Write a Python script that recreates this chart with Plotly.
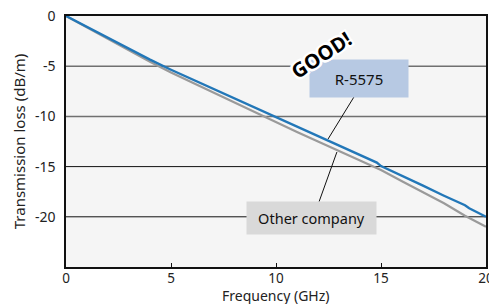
import plotly.graph_objects as go

# ---- data ----
freq_r5575 = [0, 1, 2, 3, 4, 5, 6, 7, 8, 9, 10, 11, 12, 13, 14, 14.6, 14.8, 15, 16, 17, 18, 19, 19.2, 20]
loss_r5575 = [0, -1.1, -2.2, -3.3, -4.35, -5.35, -6.3, -7.25, -8.2, -9.15, -10.1, -11.05, -12.0,
              -12.95, -13.9, -14.4, -14.6, -14.95, -15.9, -16.9, -17.9, -18.85, -19.15, -20.0]

freq_other = [0, 1, 2, 3, 4, 5, 6, 7, 8, 9, 10, 11, 12, 13, 14, 15, 16, 17, 18, 19, 20]
loss_other = [0, -1.15, -2.3, -3.42, -4.55, -5.62, -6.62, -7.6, -8.6, -9.6, -10.58, -11.55, -12.5,
              -13.45, -14.4, -15.35, -16.45, -17.55, -18.65, -19.9, -21.0]

x_ticks = [0, 5, 10, 15, 20]
y_ticks = [0, -5, -10, -15, -20]
grid_y = [-5, -10, -15, -20]

fig = go.Figure()
fig.add_trace(go.Scatter(x=freq_other, y=loss_other, mode="lines",
                         line=dict(color="#9a9a9a", width=2.2), name="Other company",
                         showlegend=False))
fig.add_trace(go.Scatter(x=freq_r5575, y=loss_r5575, mode="lines",
                         line=dict(color="#2277b8", width=2.4), name="R-5575",
                         showlegend=False))

shapes = []
for g in grid_y:
    col = "#707070" if g > -12 else "#111111"
    w = 1.5 if g > -12 else 1
    shapes.append(dict(type="line", xref="paper", yref="y", x0=0, x1=1, y0=g, y1=g,
                       line=dict(color=col, width=w), layer="below"))
# leader lines
shapes.append(dict(type="line", xref="x", yref="y", x0=13.71, y0=-8.07, x1=12.48, y1=-12.25,
                   line=dict(color="#111", width=1)))
shapes.append(dict(type="line", xref="x", yref="y", x0=12.05, y0=-18.5, x1=12.9, y1=-13.55,
                   line=dict(color="#111", width=1)))

font_family = "Noto Sans"
annotations = [
    dict(x=13.95, y=-6.27, xref="x", yref="y", text="R-5575", showarrow=False,
         bgcolor="#b7c9e3", width=96, height=35, font=dict(family=font_family, size=15, color="#111")),
    dict(x=11.71, y=-20.1, xref="x", yref="y", text="Other company", showarrow=False,
         bgcolor="#d9d9d9", width=127, height=30, font=dict(family=font_family, size=14.5, color="#111")),
    dict(x=12.19, y=-3.88, xref="x", yref="y", text="<b>GOOD!</b>", showarrow=False, textangle=-33,
         font=dict(family="Open Sans", size=20, color="#000",
                   shadow="2px 0 0 #fff, -2px 0 0 #fff, 0 2px 0 #fff, 0 -2px 0 #fff, 2px 2px 0 #fff, -2px -2px 0 #fff, 2px -2px 0 #fff, -2px 2px 0 #fff")),
    # x-axis title
    dict(x=0.5, y=0, xref="paper", yref="paper", text="Frequency (GHz)", showarrow=False,
         xanchor="center", yanchor="middle", yshift=-28,
         font=dict(family=font_family, size=14, color="#222")),
]

fig.update_layout(
    width=489, height=304,
    margin=dict(l=66, r=3, t=16, b=37),
    paper_bgcolor="white", plot_bgcolor="#f5f5f5",
    shapes=shapes, annotations=annotations,
    font=dict(family=font_family, size=14, color="#222"),
)
fig.update_xaxes(range=[0, 20], tickvals=x_ticks, ticktext=[str(v) for v in x_ticks],
                 showgrid=False, zeroline=False, showline=True, linecolor="#111", linewidth=1.5,
                 mirror=True, ticks="inside", ticklen=4, tickcolor="#111",
                 ticklabeloverflow="allow", automargin=False, ticklabelstandoff=-2,
                 tickfont=dict(size=13.5))
fig.update_yaxes(range=[-25, 0], tickvals=y_ticks, ticktext=[str(v) for v in y_ticks],
                 showgrid=False, zeroline=False, showline=True, linecolor="#111", linewidth=1.5,
                 mirror=True, ticks="", ticklabelstandoff=6, ticklabeloverflow="allow", automargin=False,
                 title=dict(text="Transmission loss (dB/m)", standoff=6, font=dict(size=15)),
                 tickfont=dict(size=14))

fig.write_html("out.html", config={"displayModeBar": False},
               post_script="document.body.style.margin='0';document.body.style.overflow='hidden';")
